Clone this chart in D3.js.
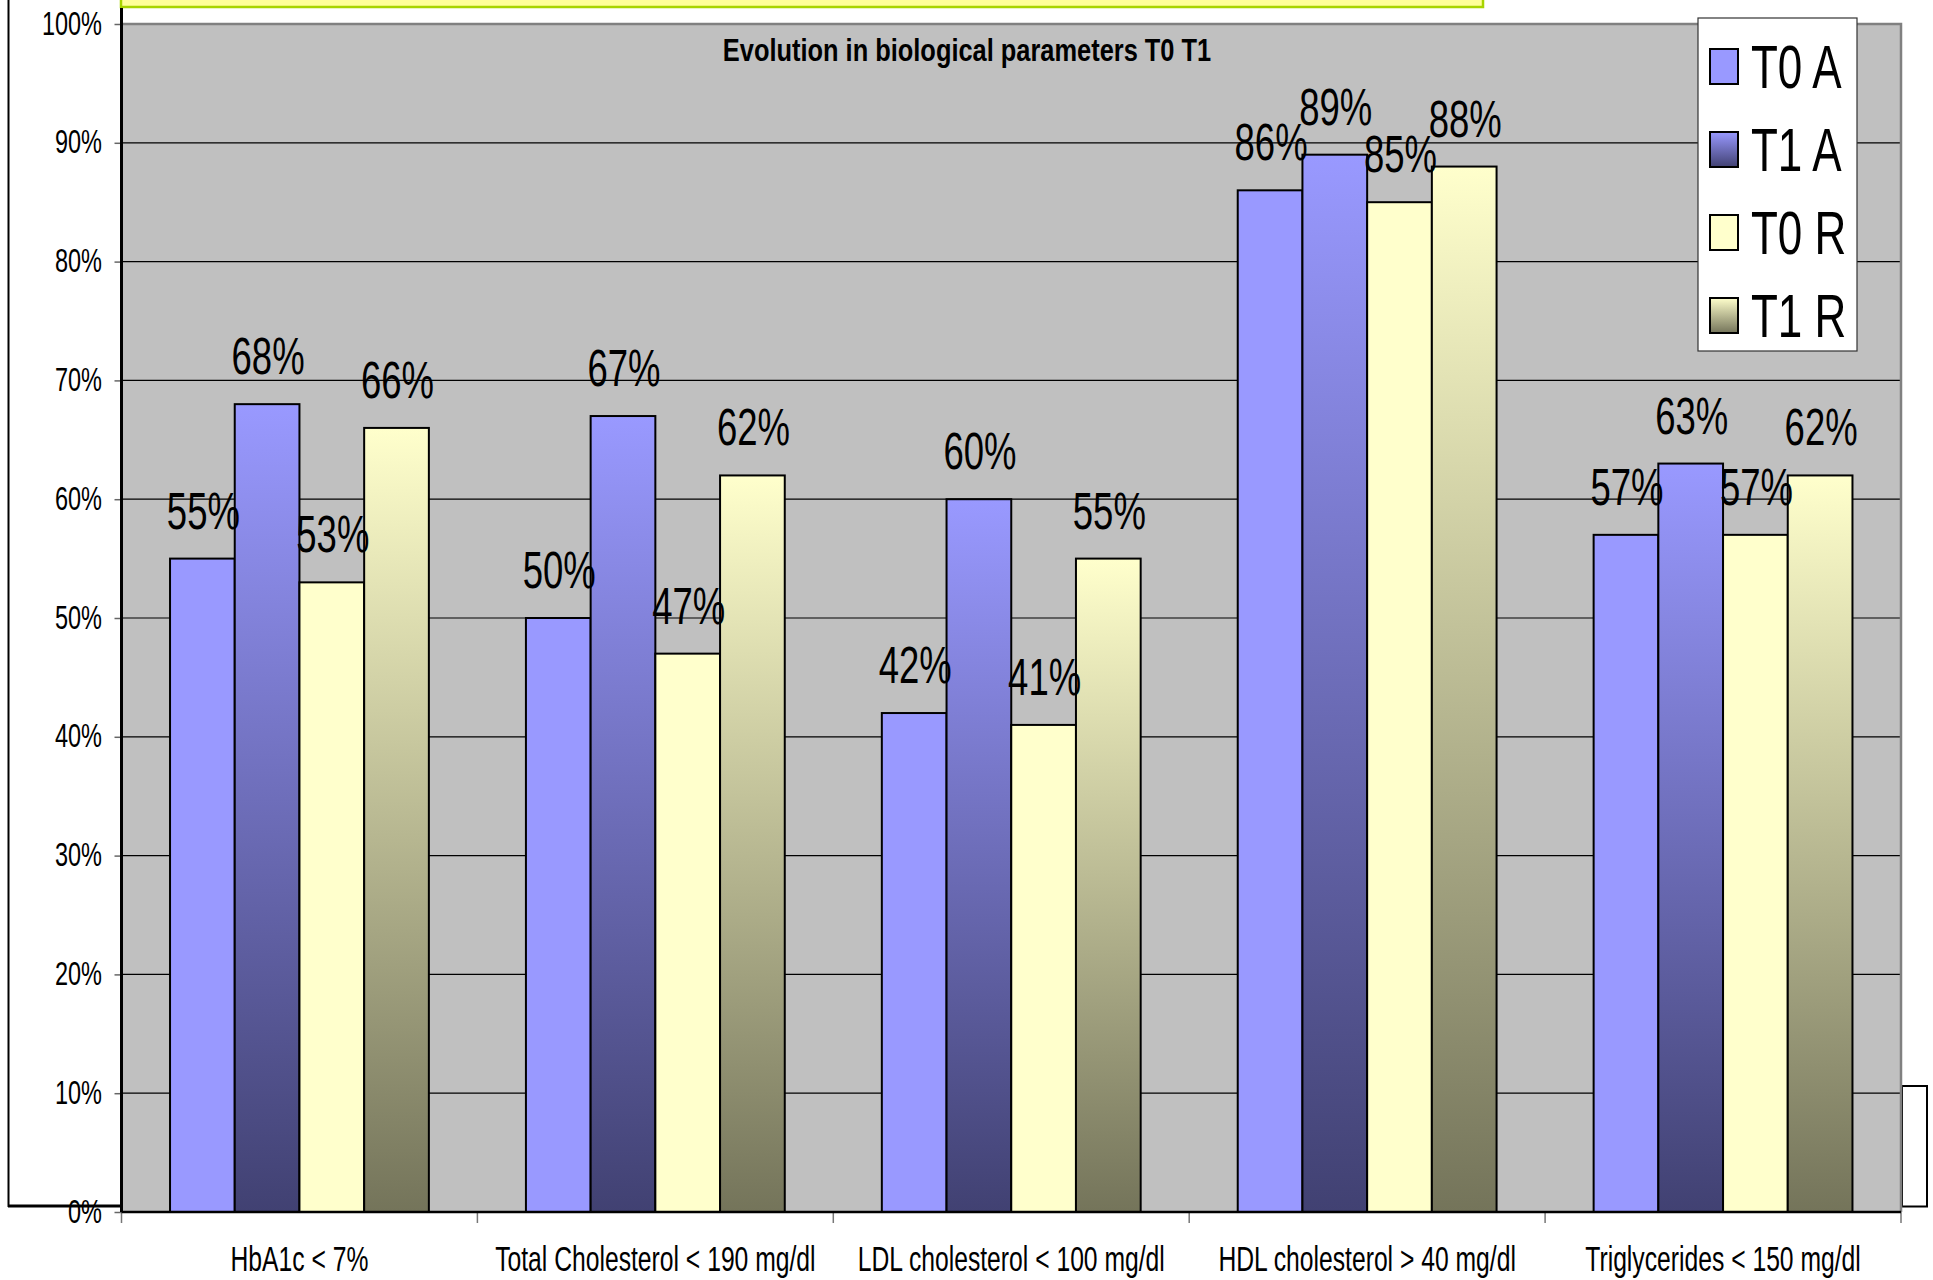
<!DOCTYPE html>
<html>
<head>
<meta charset="utf-8">
<script src="https://cdn.jsdelivr.net/npm/d3@7"></script>
<style>
  html, body { margin: 0; padding: 0; background: #ffffff; }
  svg { display: block; }
  text { font-family: "Liberation Sans", Arial, sans-serif; fill: #000; }
</style>
</head>
<body>
<svg id="chart" width="1933" height="1280"></svg>
<script>
// ---------- data ----------
const categories = [
  "HbA1c < 7%",
  "Total Cholesterol < 190 mg/dl",
  "LDL cholesterol < 100 mg/dl",
  "HDL cholesterol > 40 mg/dl",
  "Triglycerides < 150 mg/dl"
];
const seriesNames = ["T0 A", "T1 A", "T0 R", "T1 R"];
const t0A = [55, 50, 42, 86, 57];
const t1A = [68, 67, 60, 89, 63];
const t0R = [53, 47, 41, 85, 57];
const t1R = [66, 62, 55, 88, 62];
const yTickValues = [0, 10, 20, 30, 40, 50, 60, 70, 80, 90, 100];
const chartTitle = "Evolution in biological parameters T0 T1";

const seriesValues = [t0A, t1A, t0R, t1R];

// ---------- layout ----------
const SY = 1.4; // vertical stretch of all text
const plot = { left: 121.5, right: 1901, top: 24, bottom: 1212 };

const svg = d3.select("#chart");
const defs = svg.append("defs");

function grad(id, c1, c2) {
  const g = defs.append("linearGradient").attr("id", id)
    .attr("x1", 0).attr("y1", 0).attr("x2", 0).attr("y2", 1);
  g.append("stop").attr("offset", "0%").attr("stop-color", c1);
  g.append("stop").attr("offset", "100%").attr("stop-color", c2);
}
grad("gT1A", "#9999FF", "#414172");
grad("gT1R", "#FFFFCC", "#74745A");
const fills = ["#9999FF", "url(#gT1A)", "#FFFFCC", "url(#gT1R)"];

// ---------- frame pieces ----------
svg.append("rect").attr("x", 121).attr("y", -10).attr("width", 1362).attr("height", 17)
  .attr("fill", "#FFFF99").attr("stroke", "#A8D400").attr("stroke-width", 2.5);
svg.append("line").attr("x1", 8.5).attr("x2", 8.5).attr("y1", 0).attr("y2", 1207)
  .attr("stroke", "#000").attr("stroke-width", 2);
svg.append("line").attr("x1", 8).attr("x2", 121).attr("y1", 1206).attr("y2", 1206)
  .attr("stroke", "#000").attr("stroke-width", 3);
svg.append("rect").attr("x", 1902).attr("y", 1086).attr("width", 25).attr("height", 120.5)
  .attr("fill", "#fff").attr("stroke", "#000").attr("stroke-width", 2);

// ---------- scales ----------
const x0 = d3.scaleBand().domain(categories).range([plot.left, plot.right]).padding(0);
const bw = x0.bandwidth();
const x1 = d3.scaleBand().domain(seriesNames)
  .range([bw * 0.75 / 5.5, bw * 4.75 / 5.5]).padding(0);
const y = d3.scaleLinear().domain([0, 100]).range([plot.bottom, plot.top]);

// ---------- plot area ----------
svg.append("rect")
  .attr("x", plot.left).attr("y", plot.top)
  .attr("width", plot.right - plot.left).attr("height", plot.bottom - plot.top)
  .attr("fill", "#C0C0C0");

// gridlines
svg.append("g").selectAll("line")
  .data(yTickValues.filter(v => v > 0 && v < 100))
  .join("line")
  .attr("x1", plot.left).attr("x2", plot.right)
  .attr("y1", d => y(d)).attr("y2", d => y(d))
  .attr("stroke", "#000").attr("stroke-width", 1.2);

// plot border (top & right, gray)
svg.append("path")
  .attr("d", `M${plot.left},${y(100)}H${plot.right}V${plot.bottom}`)
  .attr("fill", "none").attr("stroke", "#808080").attr("stroke-width", 2.5);

// title
svg.append("text")
  .attr("transform", `translate(967,61) scale(1,1.25)`)
  .attr("text-anchor", "middle")
  .attr("font-size", 25.4).attr("font-weight", "bold")
  .text(chartTitle);

// ---------- bars ----------
const rows = categories.map((c, i) => ({
  cat: c,
  vals: seriesNames.map((s, j) => ({ s, j, v: seriesValues[j][i] }))
}));

const groups = svg.append("g").selectAll("g")
  .data(rows).join("g")
  .attr("transform", d => `translate(${x0(d.cat)},0)`);

groups.selectAll("rect")
  .data(d => d.vals).join("rect")
  .attr("x", d => x1(d.s))
  .attr("y", d => y(d.v))
  .attr("width", x1.bandwidth())
  .attr("height", d => y(0) - y(d.v))
  .attr("fill", d => fills[d.j])
  .attr("stroke", "#000").attr("stroke-width", 2);

groups.selectAll("text")
  .data(d => d.vals).join("text")
  .attr("transform", d => `translate(${x1(d.s) + x1.bandwidth() / 2 + 1},${y(d.v) - 30}) scale(1,${SY})`)
  .attr("text-anchor", "middle")
  .attr("font-size", 36.5)
  .text(d => d.v + "%");

// ---------- axes ----------
const yAxis = svg.append("g")
  .attr("transform", `translate(${plot.left},0)`)
  .call(d3.axisLeft(y).tickValues(yTickValues).tickSize(7).tickFormat(d => d + "%"));
yAxis.select(".domain").remove();
yAxis.selectAll(".tick line").attr("stroke", "#666").attr("stroke-width", 1.5);
yAxis.selectAll(".tick text")
  .attr("x", null).attr("dy", null).attr("fill", "#000")
  .attr("transform", `translate(-19.5,10) scale(1,${SY})`)
  .attr("font-size", 23.5).attr("font-family", null);
svg.append("line").attr("x1", plot.left).attr("x2", plot.left)
  .attr("y1", 8).attr("y2", plot.bottom)
  .attr("stroke", "#000").attr("stroke-width", 3);

const xAxis = svg.append("g")
  .attr("transform", `translate(0,${plot.bottom})`)
  .call(d3.axisBottom(x0).tickSize(0));
xAxis.select(".domain").remove();
xAxis.selectAll(".tick text")
  .attr("y", null).attr("dy", null).attr("fill", "#000")
  .attr("transform", `translate(0,59) scale(1,${SY})`)
  .attr("font-size", 24.7).attr("font-family", null);

// boundary ticks
const boundaries = categories.map(c => x0(c)).concat([x0.range()[1]]);
svg.append("g").selectAll("line").data(boundaries).join("line")
  .attr("x1", d => d).attr("x2", d => d)
  .attr("y1", plot.bottom).attr("y2", plot.bottom + 11)
  .attr("stroke", "#777").attr("stroke-width", 1.5);
svg.append("line").attr("x1", plot.left).attr("x2", plot.right)
  .attr("y1", plot.bottom).attr("y2", plot.bottom)
  .attr("stroke", "#000").attr("stroke-width", 2.5);

// ---------- legend ----------
const legend = svg.append("g");
legend.append("rect").attr("x", 1698).attr("y", 18).attr("width", 159).attr("height", 333)
  .attr("fill", "#fff").attr("stroke", "#333").attr("stroke-width", 1.2);
const legendY = d3.scalePoint().domain(seriesNames).range([66.5, 315.5]);
const li = legend.selectAll("g.item").data(seriesNames).join("g").attr("class", "item");
li.append("rect")
  .attr("x", 1710).attr("y", d => legendY(d) - 17.5)
  .attr("width", 28).attr("height", 35)
  .attr("fill", (d, i) => fills[i])
  .attr("stroke", "#000").attr("stroke-width", 2);
li.append("text")
  .attr("transform", d => `translate(1751,${legendY(d) + 21}) scale(1,${SY})`)
  .attr("font-size", 44)
  .text(d => d);
</script>
</body>
</html>
